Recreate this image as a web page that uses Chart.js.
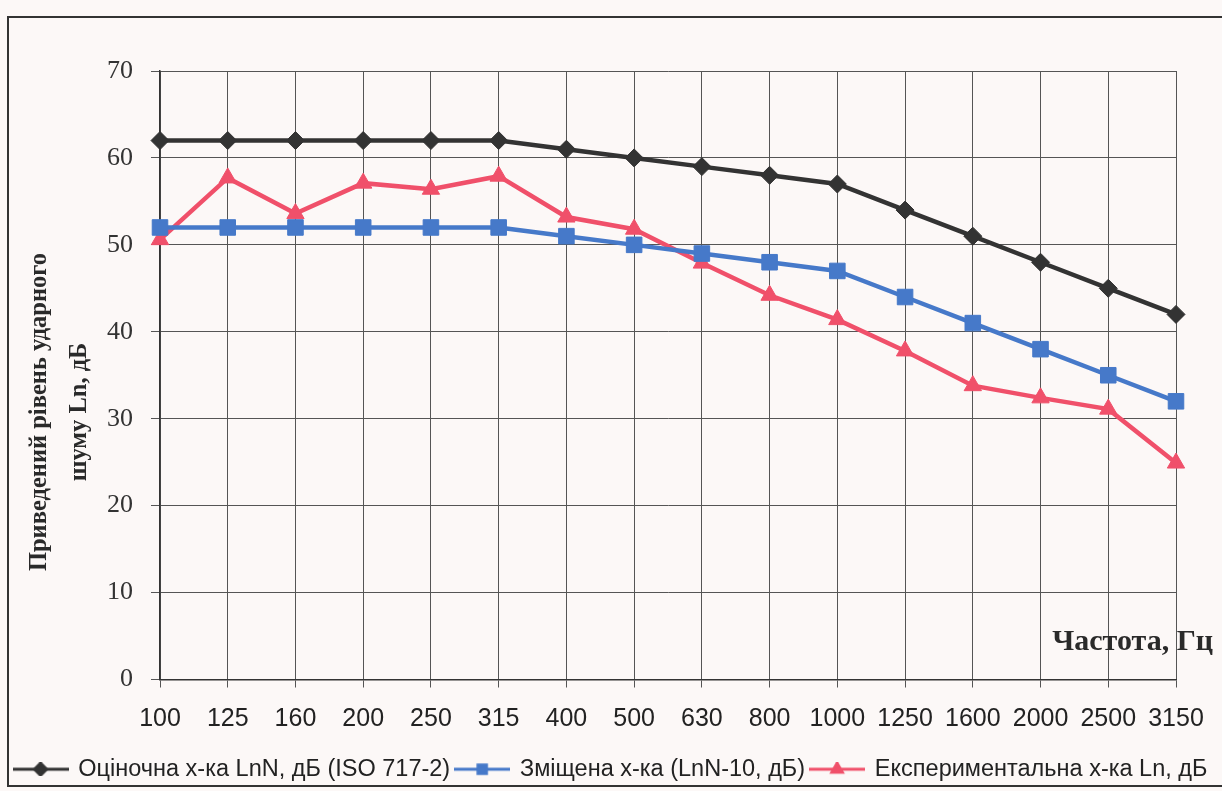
<!DOCTYPE html>
<html>
<head>
<meta charset="utf-8">
<script src="https://cdn.jsdelivr.net/npm/chart.js@4"></script>
<style>
    html, body { margin: 0; padding: 0; background: #fcf8f7; }
    #chartBox { width: 1222px; height: 791px; }
</style>
</head>
<body>
<div id="chartBox"><canvas id="noiseChart" width="1222" height="791"></canvas></div>
<script>
const frequencies = ['100', '125', '160', '200', '250', '315', '400', '500', '630', '800', '1000', '1250', '1600', '2000', '2500', '3150'];
const referenceCurve = [62, 62, 62, 62, 62, 62, 61, 60, 59, 58, 57, 54, 51, 48, 45, 42];      // ISO 717-2
const shiftedCurve = [52, 52, 52, 52, 52, 52, 51, 50, 49, 48, 47, 44, 41, 38, 35, 32];        // LnN-10
const measuredCurve = [50.6, 57.7, 53.6, 57.1, 56.4, 57.9, 53.2, 51.8, 47.9, 44.2, 41.4, 37.8, 33.8, 32.4, 31.1, 24.9];
const seriesNames = ['Оціночна х-ка LnN, дБ (ISO 717-2)', 'Зміщена х-ка (LnN-10, дБ)', 'Експериментальна х-ка Ln, дБ'];
const yTitleLines = ['Приведений рівень ударного', 'шуму Ln, дБ'];
const xTitle = 'Частота, Гц';

const colors = ['#333333', '#4679c9', '#f0506a'];
const markers = ['rectRot', 'rect', 'triangle'];
const markerSizes = [9, 11, 10];

// small picture for the legend: line with the marker in the middle
function legendIcon(color, style) {
    const c = document.createElement('canvas');
    c.width = 56;
    c.height = 14;
    const ctx = c.getContext('2d');
    ctx.strokeStyle = color;
    ctx.fillStyle = color;
    ctx.lineWidth = 3;
    ctx.beginPath();
    ctx.moveTo(0, 7);
    ctx.lineTo(56, 7);
    ctx.stroke();
    Chart.helpers.drawPoint(ctx, { pointStyle: style, radius: 6, borderWidth: 1 }, 28, 7);
    return c;
}

const framePlugin = {
    id: 'frameAndLabels',
    beforeDraw(chart) {
        const ctx = chart.ctx;
        ctx.save();
        ctx.fillStyle = '#fcf8f7';
        ctx.fillRect(0, 0, chart.width, chart.height);
        ctx.strokeStyle = '#333';
        ctx.lineWidth = 2;
        ctx.strokeRect(8, 17, 1240, 769);
        ctx.restore();
    },
    afterDraw(chart) {
        const ctx = chart.ctx;
        ctx.save();
        ctx.fillStyle = '#2a2a2a';
        ctx.font = 'bold 30px "Liberation Serif", "Times New Roman", serif';
        ctx.textAlign = 'right';
        ctx.textBaseline = 'alphabetic';
        ctx.fillText(xTitle, 1213, 650);

        // y axis title, two rotated lines
        ctx.font = 'bold 24.5px "Liberation Serif", "Times New Roman", serif';
        ctx.textAlign = 'center';
        ctx.textBaseline = 'middle';
        ctx.translate(0, 412);
        ctx.rotate(-Math.PI / 2);
        ctx.fillText(yTitleLines[0], 0, 40);
        ctx.fillText(yTitleLines[1], 0, 80);
        ctx.restore();
    }
};

function makeDataset(i, values) {
    return {
        label: seriesNames[i],
        data: values,
        borderColor: colors[i],
        backgroundColor: colors[i],
        borderWidth: 4.5,
        pointStyle: markers[i],
        pointRadius: markerSizes[i],
        pointHoverRadius: markerSizes[i],
        pointBorderWidth: 1,
        tension: 0
    };
}

const ctx = document.getElementById('noiseChart').getContext('2d');
const noiseChart = new Chart(ctx, {
    type: 'line',
    data: {
        labels: frequencies,
        datasets: [
            makeDataset(0, referenceCurve),
            makeDataset(1, shiftedCurve),
            makeDataset(2, measuredCurve)
        ]
    },
    options: {
        responsive: false,
        devicePixelRatio: 1,
        animation: false,
        layout: { padding: { left: 0, right: 0, top: 71, bottom: 0 } },
        scales: {
            x: {
                offset: false,
                afterFit: function (scale) { scale.height = 72; },
                grid: { color: '#555', lineWidth: 1, tickLength: 8, drawTicks: true },
                border: { color: '#333', width: 1.5 },
                ticks: {
                    color: '#222',
                    padding: 17,
                    maxRotation: 0,
                    autoSkip: false,
                    font: { family: '"Liberation Sans Narrow", "Arial Narrow", sans-serif', size: 25 }
                }
            },
            y: {
                min: 0,
                max: 70,
                afterFit: function (scale) { scale.width = 160; },
                grid: { color: '#555', lineWidth: 1, tickLength: 9 },
                border: { color: '#333', width: 1.5 },
                ticks: {
                    stepSize: 10,
                    color: '#333',
                    padding: 18,
                    font: { family: '"Liberation Serif", "Times New Roman", serif', size: 26 }
                }
            },
            // empty right-hand box, only keeps the margin on the right
            rightGap: {
                position: 'right',
                afterFit: function (scale) { scale.width = 46; },
                grid: { display: false, drawOnChartArea: false },
                border: { display: false },
                ticks: { display: false }
            }
        },
        plugins: {
            legend: {
                position: 'bottom',
                labels: {
                    usePointStyle: true,
                    pointStyleWidth: 52,
                    padding: 6,
                    color: '#222',
                    font: { family: '"Liberation Sans", Arial, sans-serif', size: 23.5 },
                    generateLabels: function (chart) {
                        return chart.data.datasets.map(function (ds, i) {
                            return {
                                text: ds.label,
                                fillStyle: colors[i],
                                strokeStyle: colors[i],
                                pointStyle: legendIcon(colors[i], markers[i]),
                                datasetIndex: i,
                                hidden: false,
                                fontColor: '#222'
                            };
                        });
                    }
                }
            },
            tooltip: { enabled: false }
        }
    },
    plugins: [framePlugin]
});
</script>
</body>
</html>
